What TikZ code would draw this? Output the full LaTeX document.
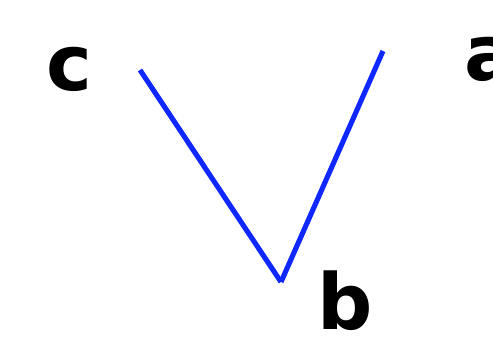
\documentclass[tikz,border=0pt]{standalone}
\usepackage{fontspec}
\setsansfont{DejaVu Sans}
\usepackage{tikz}
\usetikzlibrary{positioning,calc}
\usepackage{xcolor}
\definecolor{linkblue}{HTML}{0F28FF}

\begin{document}
\begin{tikzpicture}[x=0.02cm,y=0.02cm,
      lbl/.style={anchor=base,inner sep=0pt,font=\sffamily\bfseries\fontsize{44}{44}\selectfont},
      edge/.style={linkblue,line width=2.9pt}]
    \useasboundingbox (0,0) rectangle (493,337);
    % end points of the V
    \coordinate (pc) at (140,267);
    \coordinate (pb) at (281,55);
    \coordinate (pa) at (383,286);
    % labels
    \node[lbl](c) at (69,246) {c};
    \node[lbl](b) at (345,7) {b};
    \node[lbl](a) at (491,256) {a};
    \draw[edge](pc)--(pb);
    \draw[edge](pb)--(pa);
  \end{tikzpicture}
\end{document}
